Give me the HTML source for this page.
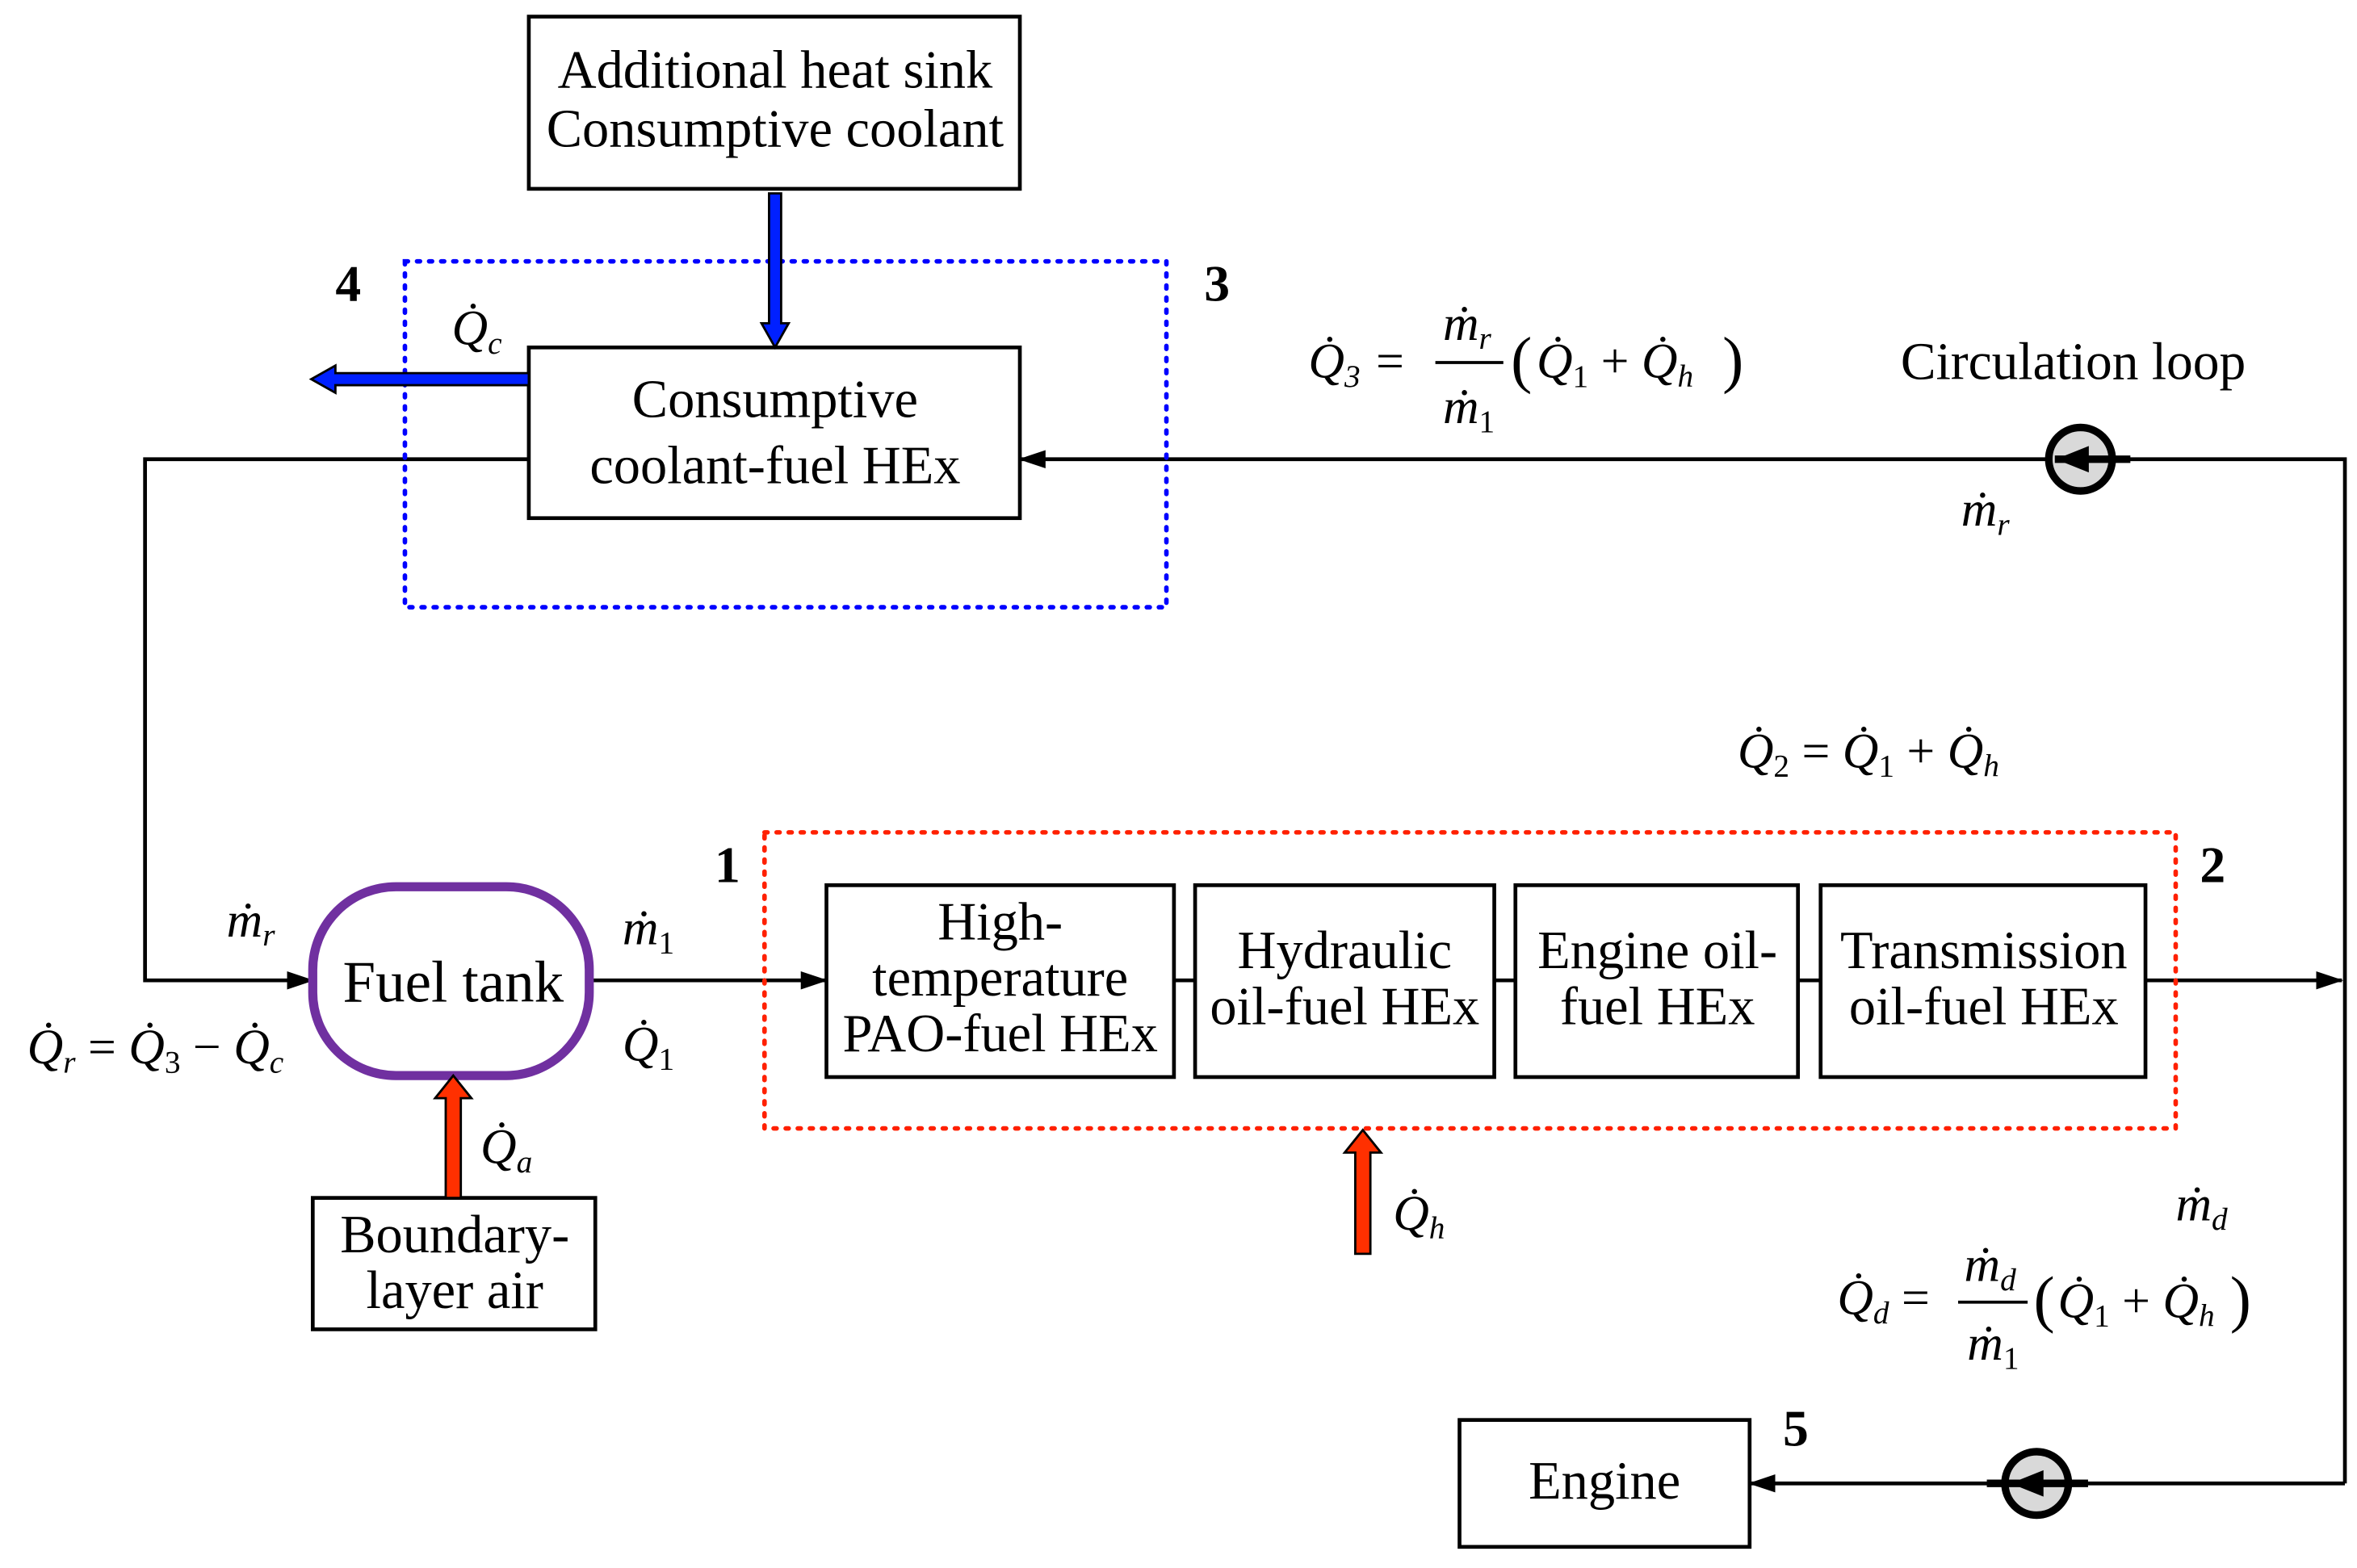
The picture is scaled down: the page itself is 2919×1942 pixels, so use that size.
<!DOCTYPE html>
<html><head><meta charset="utf-8"><style>
html,body{margin:0;padding:0;background:#fff;}
svg{display:block;}
text{font-family:"Liberation Serif",serif;fill:#000;}
.t{font-size:35.5px;text-anchor:middle;}
.m{font-size:33px;font-style:italic;}
.s{font-size:21px;font-style:italic;}
.b{font-size:34px;font-weight:bold;}
</style></head><body>
<svg width="2919" height="1942" viewBox="0 0 1560 1038" preserveAspectRatio="none" xmlns="http://www.w3.org/2000/svg">
<defs>
<marker id="ah" markerWidth="18" markerHeight="12" refX="17" refY="6" orient="auto" markerUnits="userSpaceOnUse"><path d="M0,0 L18,6 L0,12 Z" fill="#000"/></marker>
</defs>
<g fill="none" stroke="#000" stroke-width="2.5">
<rect x="350" y="11" width="325" height="114"/>
<rect x="350" y="230" width="325" height="113"/>
<rect x="547" y="586" width="230" height="127"/>
<rect x="791" y="586" width="198" height="127"/>
<rect x="1003" y="586" width="187" height="127"/>
<rect x="1205" y="586" width="215" height="127"/>
<rect x="207" y="793" width="187" height="87"/>
<rect x="966" y="940" width="192" height="84"/>
<polyline points="350,304 96,304 96,649 207,649" marker-end="url(#ah)"/>
<line x1="390" y1="649" x2="547" y2="649" marker-end="url(#ah)"/>
<line x1="777" y1="649" x2="791" y2="649"/>
<line x1="989" y1="649" x2="1003" y2="649"/>
<line x1="1190" y1="649" x2="1205" y2="649"/>
<line x1="1420" y1="649" x2="1550" y2="649" marker-end="url(#ah)"/>
<polyline points="1552,982 1552,304 675,304" marker-end="url(#ah)"/>
<polyline points="1552,982 1158,982" marker-end="url(#ah)"/>
</g>
<rect x="268" y="173" width="504" height="229" fill="none" stroke="#0000ff" stroke-width="3" stroke-dasharray="2,6" stroke-linecap="round"/>
<rect x="506" y="551" width="934" height="196" fill="none" stroke="#ff2000" stroke-width="3" stroke-dasharray="2,6" stroke-linecap="round"/>
<rect x="207" y="587" width="183" height="125" rx="55" fill="none" stroke="#7030a0" stroke-width="6"/>
<path d="M509,128 L517,128 L517,214 L522,214 L513,230 L504,214 L509,214 Z" fill="#0020ff" stroke="#000" stroke-width="1.5"/>
<path d="M350,247 L222,247 L222,242 L206,251 L222,260 L222,255 L350,255 Z" fill="#0020ff" stroke="#000" stroke-width="1.5"/>
<path d="M295,793 L295,727 L288,727 L300,712 L312,727 L305,727 L305,793 Z" fill="#ff3000" stroke="#000" stroke-width="1.5"/>
<path d="M897,830 L897,763 L890,763 L902,748 L914,763 L907,763 L907,830 Z" fill="#ff3000" stroke="#000" stroke-width="1.5"/>
<g stroke="#000">
<circle cx="1377" cy="304" r="21" fill="#d9d9d9" stroke-width="5"/>
<line x1="1360" y1="304" x2="1410" y2="304" stroke-width="5"/>
<path d="M1362,304 L1382,296 L1382,312 Z" fill="#000"/>
<circle cx="1348" cy="982" r="21" fill="#d9d9d9" stroke-width="5"/>
<line x1="1315" y1="982" x2="1382" y2="982" stroke-width="5"/>
<path d="M1332,982 L1352,974 L1352,990 Z" fill="#000"/>
</g>
<text class="t" x="513" y="58">Additional heat sink</text>
<text class="t" x="513" y="97">Consumptive coolant</text>
<text class="t" x="513" y="276">Consumptive</text>
<text class="t" x="513" y="320">coolant-fuel HEx</text>
<text class="t" x="300" y="663" style="font-size:39px">Fuel tank</text>
<text class="t" x="662" y="622">High-</text>
<text class="t" x="662" y="659">temperature</text>
<text class="t" x="662" y="696">PAO-fuel HEx</text>
<text class="t" x="890" y="641">Hydraulic</text>
<text class="t" x="890" y="678">oil-fuel HEx</text>
<text class="t" x="1097" y="641">Engine oil-</text>
<text class="t" x="1097" y="678">fuel HEx</text>
<text class="t" x="1313" y="641">Transmission</text>
<text class="t" x="1313" y="678">oil-fuel HEx</text>
<text class="t" x="301" y="829">Boundary-</text>
<text class="t" x="301" y="866">layer air</text>
<text class="t" x="1062" y="992">Engine</text>
<text x="1258" y="251" style="font-size:35px">Circulation loop</text>
<text class="b" x="222" y="199">4</text>
<text class="b" x="797" y="199">3</text>
<text class="b" x="473" y="584">1</text>
<text class="b" x="1456" y="584">2</text>
<text class="b" x="1180" y="957">5</text>
<text class="m" x="299" y="228">Q&#775;<tspan class="s" dy="6">c</tspan></text>
<text class="m" x="866" y="250">Q&#775;<tspan class="s" dy="6">3</tspan><tspan dy="-6"> =</tspan></text>
<text class="m" x="955" y="225">m&#775;<tspan class="s" dy="6">r</tspan></text>
<line x1="950" y1="240" x2="995" y2="240" stroke="#000" stroke-width="2"/>
<text class="m" x="955" y="280">m&#775;<tspan class="s" dy="6" style="font-style:normal">1</tspan></text>
<text class="m" x="1000" y="252" style="font-size:42px;font-style:normal">(</text>
<text class="m" x="1017" y="250">Q&#775;<tspan class="s" dy="6" style="font-style:normal">1</tspan><tspan dy="-6" style="font-style:normal"> + </tspan>Q&#775;<tspan class="s" dy="6">h</tspan></text>
<text class="m" x="1140" y="252" style="font-size:42px;font-style:normal">)</text>
<text class="m" x="1298" y="348">m&#775;<tspan class="s" dy="6">r</tspan></text>
<text class="m" x="1150" y="508">Q&#775;<tspan class="s" dy="6" style="font-style:normal">2</tspan><tspan dy="-6" style="font-style:normal"> = </tspan>Q&#775;<tspan class="s" dy="6" style="font-style:normal">1</tspan><tspan dy="-6" style="font-style:normal"> + </tspan>Q&#775;<tspan class="s" dy="6">h</tspan></text>
<text class="m" x="150" y="620">m&#775;<tspan class="s" dy="6">r</tspan></text>
<text class="m" x="412" y="625">m&#775;<tspan class="s" dy="6" style="font-style:normal">1</tspan></text>
<text class="m" x="412" y="702">Q&#775;<tspan class="s" dy="6" style="font-style:normal">1</tspan></text>
<text class="m" x="18" y="704">Q&#775;<tspan class="s" dy="6">r</tspan><tspan dy="-6" style="font-style:normal"> = </tspan>Q&#775;<tspan class="s" dy="6" style="font-style:normal">3</tspan><tspan dy="-6" style="font-style:normal"> − </tspan>Q&#775;<tspan class="s" dy="6">c</tspan></text>
<text class="m" x="318" y="770">Q&#775;<tspan class="s" dy="6">a</tspan></text>
<text class="m" x="922" y="814">Q&#775;<tspan class="s" dy="6">h</tspan></text>
<text class="m" x="1440" y="808">m&#775;<tspan class="s" dy="6">d</tspan></text>
<text class="m" x="1216" y="870">Q&#775;<tspan class="s" dy="6">d</tspan><tspan dy="-6" style="font-style:normal"> =</tspan></text>
<text class="m" x="1300" y="848">m&#775;<tspan class="s" dy="6">d</tspan></text>
<line x1="1296" y1="862" x2="1342" y2="862" stroke="#000" stroke-width="2"/>
<text class="m" x="1302" y="900">m&#775;<tspan class="s" dy="6" style="font-style:normal">1</tspan></text>
<text class="m" x="1346" y="874" style="font-size:42px;font-style:normal">(</text>
<text class="m" x="1362" y="872">Q&#775;<tspan class="s" dy="6" style="font-style:normal">1</tspan><tspan dy="-6" style="font-style:normal"> + </tspan>Q&#775;<tspan class="s" dy="6">h</tspan></text>
<text class="m" x="1476" y="874" style="font-size:42px;font-style:normal">)</text>
</svg>
</body></html>
